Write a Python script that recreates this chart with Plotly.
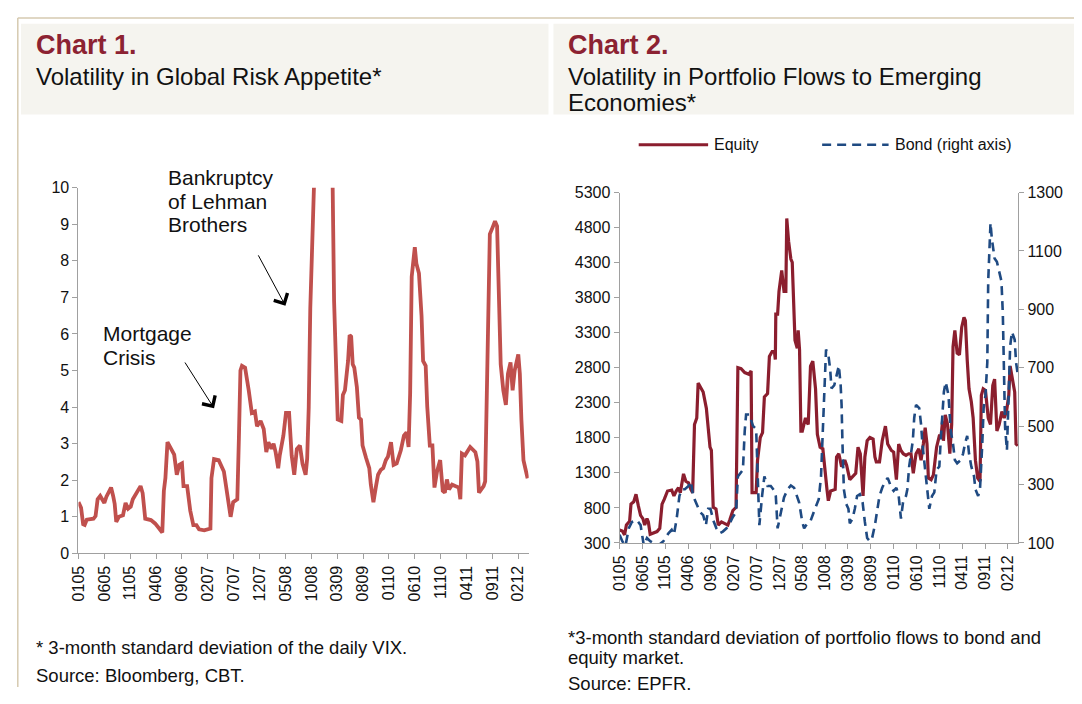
import plotly.graph_objects as go

# ---------------- data ----------------
tick_months = [0, 5, 10, 15, 20, 25, 30, 35, 40, 45, 50, 55, 60, 65, 70, 75, 80, 85]
tick_labels = ["0105", "0605", "1105", "0406", "0906", "0207", "0707", "1207", "0508",
               "1008", "0309", "0809", "0110", "0610", "1110", "0411", "0911", "0212"]

# Chart 1: 3-month std dev of daily VIX (x = months since Jan 2005)
vix_month = [0, 0.5, 0.9, 1.2, 1.6, 2.9, 3.3, 3.7, 4.2, 4.7, 5.0, 5.4, 6.3, 6.7, 7.0, 7.3, 7.8, 8.6,
             9.1, 9.6, 10.1, 10.5, 11.5, 12.0, 12.4, 12.9, 14.0, 14.8, 15.6, 16.2, 16.5, 16.8, 17.2,
             17.9, 18.5, 19.0, 19.5, 20.0, 20.3, 21.0, 21.6, 22.2, 22.8, 23.3, 24.3, 25.5, 25.7, 26.2,
             27.1, 28.1, 28.7, 29.4, 29.9, 30.7, 31.0, 31.3, 31.6, 32.2, 32.9, 33.5, 34.1, 34.5, 35.2,
             35.8, 36.3, 36.7, 37.3, 37.7, 38.1, 38.6, 38.9, 39.6, 40.1, 40.7, 41.2, 41.7, 42.2, 42.8,
             43.3, 43.9, 44.2, 44.5, 44.8, 45.1, 45.6, 47.0, 48.5, 49.1, 49.4, 49.6, 50.1, 50.8, 51.1,
             51.5, 52.1, 52.4, 52.7, 53.0, 53.3, 53.8, 54.2, 54.6, 54.9, 55.6, 56.2, 56.5, 57.0, 57.5,
             57.9, 58.4, 58.9, 59.4, 59.8, 60.4, 60.9, 61.5, 62.3, 62.9, 63.4, 63.8, 64.1, 64.4, 64.7,
             65.0, 65.3, 65.8, 66.3, 66.6, 67.1, 67.4, 67.9, 68.4, 68.8, 69.3, 69.9, 70.4, 70.8, 71.2,
             71.6, 72.2, 72.8, 73.5, 73.8, 74.1, 74.7, 75.7, 76.7, 77.1, 77.4, 78.3, 78.6, 78.9, 79.2,
             79.5, 80.0, 80.5, 80.9, 81.3, 81.6, 82.1, 82.6, 83.0, 83.5, 83.9, 84.3, 85.0, 85.3, 85.6,
             86.0, 86.4, 86.8]
vix_sd = [1.40, 1.25, 0.80, 0.78, 0.92, 0.95, 1.02, 1.48, 1.57, 1.44, 1.38, 1.55, 1.80, 1.57, 1.35,
          0.86, 1.00, 1.04, 1.38, 1.22, 1.28, 1.48, 1.75, 1.84, 1.65, 0.95, 0.91, 0.82, 0.68, 0.57,
          1.71, 2.06, 3.04, 2.86, 2.70, 2.15, 2.42, 2.46, 1.84, 1.84, 1.17, 0.77, 0.77, 0.66, 0.63,
          0.68, 2.06, 2.58, 2.55, 2.24, 1.71, 1.00, 1.40, 1.48, 3.13, 5.00, 5.13, 5.08, 4.46, 3.84,
          3.88, 3.48, 3.62, 3.40, 2.77, 3.04, 2.86, 3.00, 2.77, 2.33, 2.68, 3.22, 3.84, 3.84, 2.68,
          2.15, 2.85, 2.95, 2.45, 2.15, 2.60, 4.00, 6.70, 10.5, 14.0, 17.0, 13.0, 10.3, 6.90, 5.80,
          3.66, 3.62, 4.33, 4.46, 5.26, 5.97, 5.93, 5.17, 5.08, 4.55, 3.71, 3.66, 2.95, 2.60, 2.33,
          1.88, 1.40, 1.84, 2.15, 2.28, 2.33, 2.55, 2.64, 3.04, 2.42, 2.46, 2.82, 3.22, 3.31, 2.91,
          4.37, 7.57, 7.93, 8.37, 7.93, 7.66, 6.50, 5.26, 5.13, 4.02, 2.95, 2.95, 1.80, 2.24, 2.55,
          1.71, 1.66, 2.02, 1.75, 1.88, 1.84, 1.80, 1.48, 2.73, 2.68, 2.91, 2.77, 2.51, 1.66, 1.84,
          1.97, 4.02, 6.68, 8.73, 8.90, 9.08, 8.95, 6.68, 5.17, 4.46, 4.06, 4.91, 5.22, 4.46, 5.00,
          5.44, 4.91, 3.66, 2.55, 2.30, 2.05]

# Chart 2: 3-month std dev of portfolio flows (equity, left axis)
eq_month = [0, 0.6, 1.1, 1.5, 2.2, 2.5, 3.1, 3.6, 4.1, 4.6, 5.1, 5.5, 6.0, 6.3, 6.7, 7.3, 8.2, 8.8,
            9.3, 9.8, 10.5, 11.4, 11.9, 12.4, 12.9, 13.3, 13.6, 14.0, 14.5, 15.1, 15.6, 16.0, 16.4,
            16.9, 17.2, 17.8, 18.3, 19.0, 19.4, 19.8, 20.1, 20.5, 21.1, 21.6, 22.3, 23.0, 23.7, 24.1,
            24.8, 25.5, 25.9, 26.6, 27.4, 28.3, 28.8, 29.0, 29.9, 30.2, 30.8, 31.3, 31.7, 32.4, 32.8,
            33.4, 33.9, 34.1, 34.2, 34.6, 34.9, 35.5, 36.0, 36.4, 36.6, 37.0, 37.5, 37.8, 38.4, 38.9,
            39.1, 39.4, 39.7, 40.0, 40.7, 41.3, 41.8, 42.3, 42.9, 43.3, 43.9, 44.5, 45.0, 45.4, 45.7,
            46.2, 47.2, 47.5, 48.0, 48.6, 49.3, 49.7, 50.4, 51.0, 51.7, 52.2, 52.7, 53.3, 53.7, 54.2,
            54.8, 55.5, 55.9, 56.2, 56.9, 57.5, 58.2, 58.7, 59.5, 60.0, 60.6, 61.1, 61.6, 62.1, 62.7,
            63.3, 63.8, 64.3, 64.9, 65.5, 66.0, 66.5, 66.9, 67.3, 67.6, 68.2, 68.7, 69.4, 70.0, 70.4,
            70.7, 70.9, 71.3, 71.8, 72.3, 72.7, 73.0, 73.4, 73.9, 74.4, 74.9, 75.4, 75.7, 76.1, 76.5,
            77.0, 77.4, 77.9, 78.4, 78.9, 79.2, 79.6, 80.1, 80.7, 81.2, 81.7, 82.1, 82.6, 83.1, 83.7,
            84.2, 84.7, 85.2, 85.5, 86.0, 86.5, 86.8, 87.2]
eq_sd = [485, 471, 416, 555, 610, 855, 888, 995, 832, 694, 647, 555, 647, 600, 425, 439, 462, 508,
         855, 925, 1041, 1055, 971, 1041, 1087, 1018, 1133, 1286, 1180, 1157, 1064, 1018, 1990,
         2083, 2583, 2522, 2453, 2221, 1944, 1666, 1620, 809, 786, 555, 601, 578, 555, 624,
         763, 809, 2800, 2786, 2731, 2708, 2754, 1018, 1018, 1480, 1805, 1874, 2383, 2430, 2962,
         3032, 3032, 2916, 3564, 3564, 3888, 4189, 3888, 3888, 4930, 4606, 4351, 4305, 3194, 3078,
         3333, 3055, 1897, 1897, 2083, 1990, 2823, 2893, 2499, 1851, 1666, 1643, 1249, 1064, 902,
         1041, 1064, 1527, 1573, 1388, 1481, 1411, 1203, 1249, 1295, 1666, 1573, 971, 1527, 1758,
         1805, 1782, 1527, 1457, 1457, 1758, 1967, 1712, 1620, 1597, 1203, 1712, 1620, 1573, 1550,
         1573, 1573, 1295, 1573, 1643, 1481, 1712, 1944, 1712, 1226, 1203, 1272, 1666, 1828, 1828,
         2036, 1758, 2129, 1990, 1573, 1990, 3101, 3333, 3008, 2985, 3379, 3518, 3472, 2916, 2499,
         2314, 2083, 1481, 1226, 1180, 2406, 2499, 2476, 2083, 1990, 2545, 2638, 1897, 1990, 2175,
         2083, 2175, 2406, 2823, 2638, 2453, 1712, 1689]

# Chart 2: bond (right axis)
bond_month = [0, 0.6, 1.3, 2.0, 2.7, 3.8, 4.6, 4.9, 5.3, 6.0, 6.7, 7.4, 8.5, 9.6, 10.7, 11.4, 11.9,
              12.5, 13.1, 13.6, 14.3, 15.1, 15.6, 16.1, 16.9, 17.6, 18.3, 18.9, 19.4, 19.9, 20.5,
              21.2, 21.9, 22.6, 23.4, 24.1, 24.8, 25.5, 25.9, 26.4, 27.0, 27.4, 27.7, 28.4, 29.2,
              29.9, 30.2, 30.6, 31.2, 31.7, 32.4, 33.1, 33.9, 34.2, 34.6, 35.3, 36.0, 36.8, 37.5,
              38.2, 39.3, 40.0, 40.4, 41.1, 41.8, 42.5, 43.0, 43.6, 44.1, 44.5, 44.8, 45.2, 45.7,
              46.1, 46.4, 47.0, 47.5, 48.0, 48.4, 48.6, 48.8, 49.1, 49.6, 50.1, 50.4, 51.0, 51.5,
              52.0, 52.6, 53.2, 53.7, 54.2, 54.8, 55.2, 55.9, 56.4, 56.9, 57.5, 58.0, 58.7, 59.5,
              60.0, 60.6, 61.1, 61.6, 62.1, 62.7, 63.0, 63.4, 63.8, 64.2, 64.5, 64.9, 65.6, 66.0,
              66.3, 66.9, 67.4, 67.8, 68.4, 68.9, 69.4, 70.0, 70.3, 70.7, 71.0, 71.4, 72.0, 72.5,
              73.0, 73.4, 73.9, 74.7, 75.2, 75.6, 76.1, 76.5, 77.0, 77.6, 77.9, 78.5, 78.9, 79.4,
              79.7, 80.1, 80.5, 80.7, 81.0, 81.2, 81.5, 82.1, 82.6, 83.1, 83.6, 83.9, 84.1, 84.4,
              84.8, 85.2, 85.5, 85.9, 86.5, 86.8, 87.1]
bond_sd = [128, 106, 90, 150, 172, 178, 161, 128, 92, 117, 106, 100, 92, 106, 133, 145, 128,
           183, 261, 284, 284, 295, 311, 261, 234, 206, 195, 161, 217, 217, 178,
           150, 133, 139, 150, 167, 189, 206, 328, 339, 350, 484, 540, 540, 501,
           490, 328, 161, 261, 328, 295, 295, 278, 261, 150, 206, 256, 284, 297,
           289, 239, 172, 150, 167, 175, 205, 225, 250, 328, 462, 606, 762, 745,
           695, 629, 640, 673, 707, 640, 573, 439, 284, 234, 217, 167, 183, 217,
           261, 267, 239, 172, 117, 106, 111, 161, 217, 261, 289, 306, 323, 289,
           278, 289, 261, 183, 245, 261, 284, 362, 406, 451, 528, 573, 562, 506,
           439, 350, 261, 217, 261, 273, 350, 362, 451, 551, 618, 651, 606, 484,
           439, 384, 373, 384, 406, 439, 467, 406, 362, 328, 284, 261, 284, 439,
           562, 606, 718, 996, 1163, 1196, 1141, 1074, 1063, 1029, 996, 885, 718, 495,
           417, 595, 773, 823, 796, 718, 684]

# ---------------- figure ----------------
# The page body keeps its default 8px margin on every side; a 1066x688 figure therefore
# fills the 1082x704 window exactly without any overflow or scaling.
OFF = 8
W, H = 1082 - 2 * OFF, 704 - 2 * OFF
FONT = "Arial, 'Liberation Sans', sans-serif"
TXT = "#111111"
AXC = "#A0A0A0"


def px(x):
    """page pixel x -> paper fraction"""
    return (x - OFF) / W


def py(y):
    """page pixel y (from top) -> paper fraction"""
    return 1 - (y - OFF) / H


fig = go.Figure()
fig.add_trace(go.Scatter(x=vix_month, y=vix_sd, mode="lines", xaxis="x", yaxis="y",
                         line=dict(color="#C0504D", width=3.8), showlegend=False))
fig.add_trace(go.Scatter(x=eq_month, y=eq_sd, mode="lines", xaxis="x2", yaxis="y2",
                         line=dict(color="#8B1E2E", width=3.2), showlegend=False))
fig.add_trace(go.Scatter(x=bond_month, y=bond_sd, mode="lines", xaxis="x2", yaxis="y3",
                         line=dict(color="#1F4A82", width=2.6, dash="9px,6px"), showlegend=False))

axis_common = dict(showgrid=False, zeroline=False, showline=True, linecolor=AXC, linewidth=1,
                   ticks="outside", ticklen=5, tickcolor=AXC,
                   tickfont=dict(family=FONT, size=16, color=TXT))

fig.update_layout(
    width=W, height=H, autosize=False,
    margin=dict(l=0, r=0, t=0, b=0),
    paper_bgcolor="white", plot_bgcolor="rgba(0,0,0,0)",
    font=dict(family=FONT, color=TXT),
    xaxis=dict(domain=[px(70), px(524)], range=[0, 87], anchor="y",
               tickmode="array", tickvals=tick_months, ticktext=tick_labels, tickangle=-90,
               **axis_common),
    yaxis=dict(domain=[py(559), py(184)], range=[0, 10], tick0=0, dtick=1, anchor="x",
               **axis_common),
    xaxis2=dict(domain=[px(615.7), px(1017.7)], range=[0, 87.26], anchor="y2",
                tickmode="array", tickvals=tick_months, ticktext=tick_labels, tickangle=-90,
                **axis_common),
    yaxis2=dict(domain=[py(548.3), py(189)], range=[300, 5300], tick0=300, dtick=500,
                anchor="x2", **axis_common),
    yaxis3=dict(range=[100, 1300], tick0=100, dtick=200, overlaying="y2", side="right",
                anchor="x2", **axis_common),
)

shapes = [
    # header boxes
    dict(type="rect", xref="paper", yref="paper", x0=px(12), x1=px(544), y0=py(109), y1=py(16),
         fillcolor="#F5F4EF", line=dict(width=0), layer="below"),
    dict(type="rect", xref="paper", yref="paper", x0=px(549), x1=1, y0=py(109), y1=py(16),
         fillcolor="#F5F4EF", line=dict(width=0), layer="below"),
    # frame lines
    dict(type="line", xref="paper", yref="paper", x0=px(8.8), x1=1, y0=py(10), y1=py(10),
         line=dict(color="#D6CAB0", width=1.5)),
    dict(type="line", xref="paper", yref="paper", x0=px(8.8), x1=px(8.8), y0=py(10), y1=0,
         line=dict(color="#D6CAB0", width=1.5)),
    # legend samples
    dict(type="line", xref="paper", yref="paper", x0=px(635), x1=px(705), y0=py(140), y1=py(140),
         line=dict(color="#8B1E2E", width=3.2)),
    dict(type="line", xref="paper", yref="paper", x0=px(820), x1=px(887), y0=py(140), y1=py(140),
         line=dict(color="#1F4A82", width=2.6, dash="9px,6px")),
]
fig.update_layout(shapes=shapes)


def label(x, y, text, size, bold=False, color=TXT):
    t = f"<b>{text}</b>" if bold else text
    return dict(xref="paper", yref="paper", x=px(x), y=py(y), text=t, showarrow=False,
                xanchor="left", yanchor="middle", borderpad=0,
                font=dict(family=FONT, size=size, color=color))


annos = [
    label(26, 38, "Chart 1.", 27, bold=True, color="#8C2232"),
    label(26, 70, "Volatility in Global Risk Appetite*", 24),
    label(563, 38, "Chart 2.", 27, bold=True, color="#8C2232"),
    label(563, 70, "Volatility in Portfolio Flows to Emerging", 24),
    label(563, 97, "Economies*", 24),
    label(710, 140, "Equity", 16),
    label(892, 140, "Bond (right axis)", 16),
    label(159, 174, "Bankruptcy", 21),
    label(159, 198, "of Lehman", 21),
    label(159, 222, "Brothers", 21),
    label(94, 334, "Mortgage", 21),
    label(94, 358, "Crisis", 21),
    label(26, 655, "* 3-month standard deviation of the daily VIX.", 18.5),
    label(26, 684, "Source: Bloomberg, CBT.", 18.5),
    label(563, 645, "*3-month standard deviation of portfolio flows to bond and", 18.5),
    label(563, 666, "equity market.", 18.5),
    label(563, 692, "Source: EPFR.", 18.5),
    # arrows
    dict(xref="x", yref="y", x=26.2, y=3.97, axref="x", ayref="y", ax=20.4, ay=5.26,
         text="", showarrow=True, arrowhead=4, arrowsize=3, arrowwidth=1, arrowcolor="#000000"),
    dict(xref="x", yref="y", x=40.0, y=6.77, axref="x", ayref="y", ax=34.6, ay=8.19,
         text="", showarrow=True, arrowhead=4, arrowsize=3, arrowwidth=1, arrowcolor="#000000"),
]
fig.update_layout(annotations=annos)

fig.write_html("out.html", config={"displayModeBar": False})
